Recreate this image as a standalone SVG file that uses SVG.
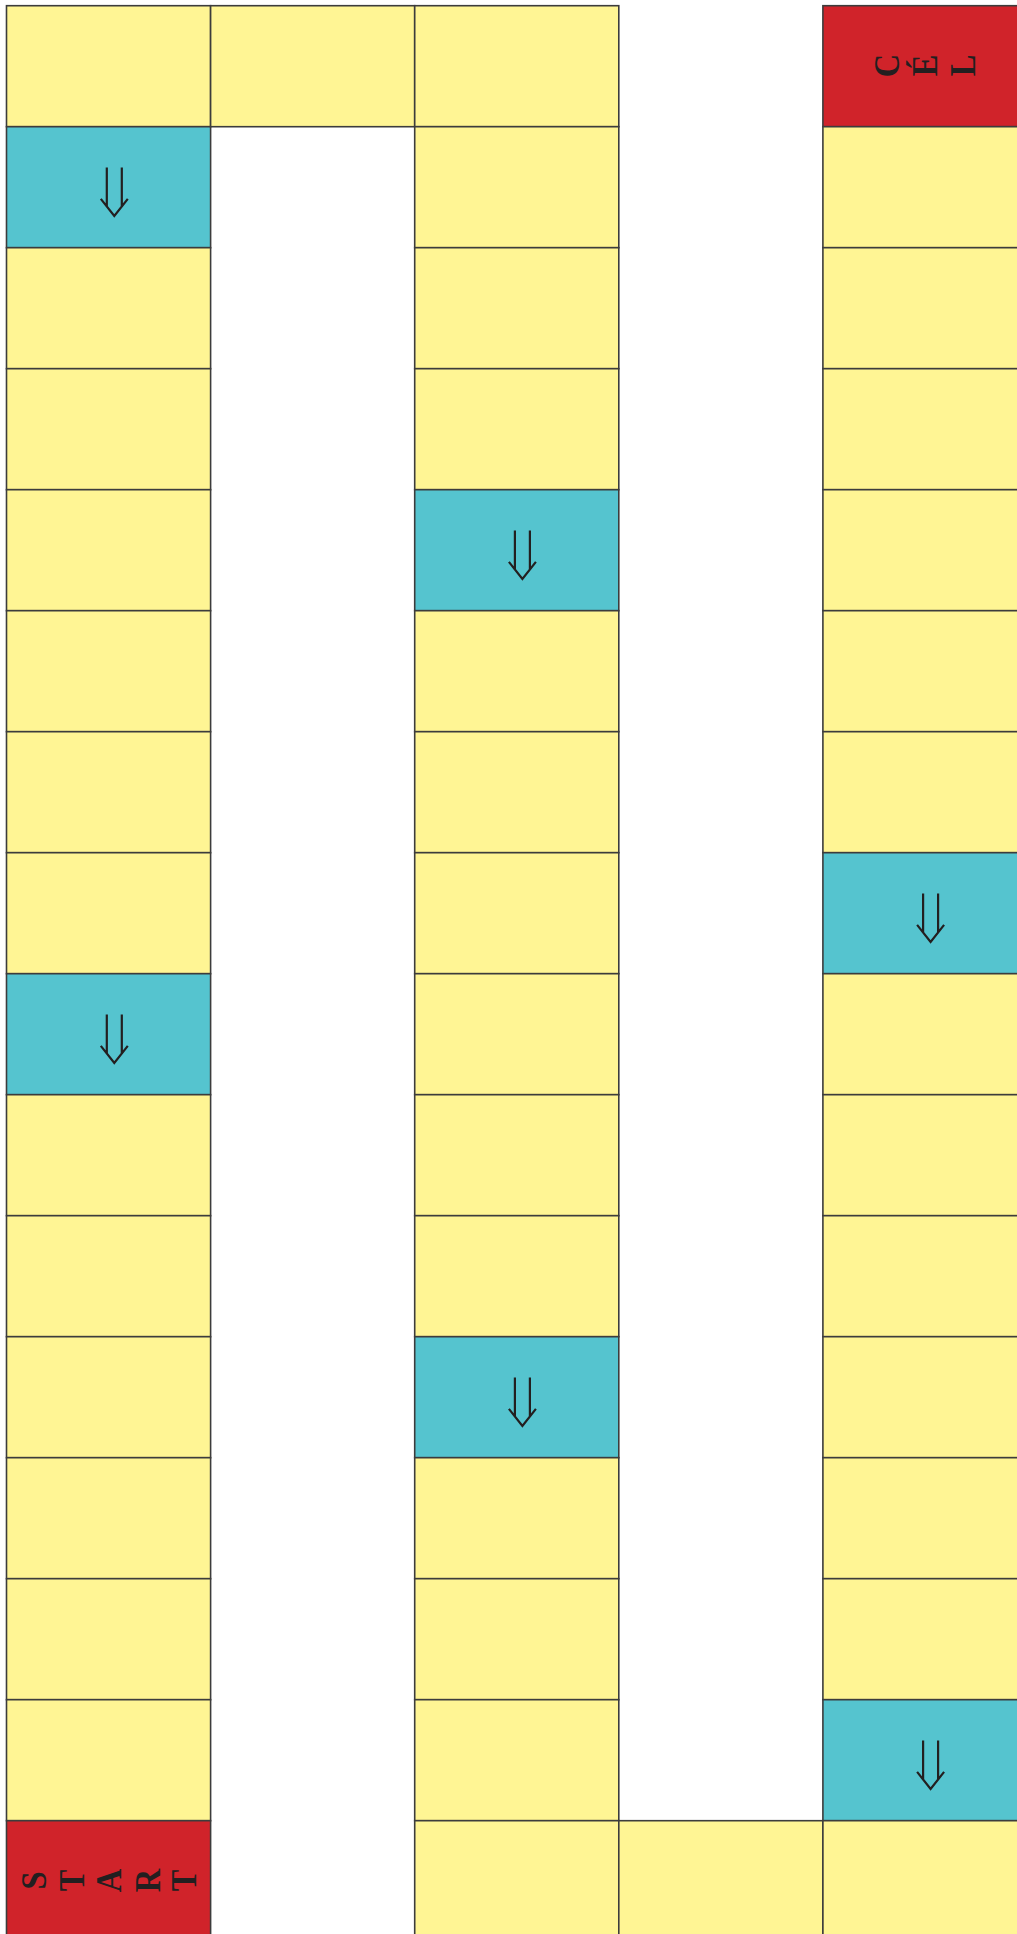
<svg xmlns="http://www.w3.org/2000/svg" xmlns:xlink="http://www.w3.org/1999/xlink" width="1017" height="1934" viewBox="0 0 1017 1934">
<style>
.c{stroke:#3c3c3c;stroke-width:1.6}
.y{fill:#fff594}
.b{fill:#55c4cf}
.r{fill:#d0232a}
.lbl{font-family:"Liberation Serif","Times New Roman",serif;font-weight:bold;font-size:36px;fill:#231f20}
</style>
<defs>
<path id="arr" d="M-7.5,-24V14.8M7.5,-24V14.8M-13.5,7.5L0,24.5L13.5,7.5" fill="none" stroke="#231f20" stroke-width="2.2"/>
</defs>
<rect width="1017" height="1934" fill="#fff"/>
<g id="col0">
<g id="c0r0"><rect class="c y" x="6.5" y="5.7" width="204.1" height="121"/></g>
<g id="c0r1"><rect class="c b" x="6.5" y="126.7" width="204.1" height="121"/><use xlink:href="#arr" x="114.3" y="191.4"/></g>
<g id="c0r2"><rect class="c y" x="6.5" y="247.7" width="204.1" height="121"/></g>
<g id="c0r3"><rect class="c y" x="6.5" y="368.7" width="204.1" height="121"/></g>
<g id="c0r4"><rect class="c y" x="6.5" y="489.7" width="204.1" height="121"/></g>
<g id="c0r5"><rect class="c y" x="6.5" y="610.7" width="204.1" height="121"/></g>
<g id="c0r6"><rect class="c y" x="6.5" y="731.7" width="204.1" height="121"/></g>
<g id="c0r7"><rect class="c y" x="6.5" y="852.7" width="204.1" height="121"/></g>
<g id="c0r8"><rect class="c b" x="6.5" y="973.7" width="204.1" height="121"/><use xlink:href="#arr" x="114.3" y="1038.4"/></g>
<g id="c0r9"><rect class="c y" x="6.5" y="1094.7" width="204.1" height="121"/></g>
<g id="c0r10"><rect class="c y" x="6.5" y="1215.7" width="204.1" height="121"/></g>
<g id="c0r11"><rect class="c y" x="6.5" y="1336.7" width="204.1" height="121"/></g>
<g id="c0r12"><rect class="c y" x="6.5" y="1457.7" width="204.1" height="121"/></g>
<g id="c0r13"><rect class="c y" x="6.5" y="1578.7" width="204.1" height="121"/></g>
<g id="c0r14"><rect class="c y" x="6.5" y="1699.7" width="204.1" height="121"/></g>
<g id="start"><rect class="c r" x="6.5" y="1820.7" width="204.1" height="121"/>
<g transform="translate(0,1880.4) scale(1,0.9) translate(0,-1880.4)"><text class="lbl" x="46.1 84.1 121.1 160.1 195.6" y="1890.5 1892.5 1893.5 1893.5 1892.5" rotate="-90 -90 -90 -90 -90">START</text></g></g>
</g>
<g id="col1">
<g id="c1r0"><rect class="c y" x="210.6" y="5.7" width="204.1" height="121"/></g>
</g>
<g id="col2">
<g id="c2r0"><rect class="c y" x="414.7" y="5.7" width="204.1" height="121"/></g>
<g id="c2r1"><rect class="c y" x="414.7" y="126.7" width="204.1" height="121"/></g>
<g id="c2r2"><rect class="c y" x="414.7" y="247.7" width="204.1" height="121"/></g>
<g id="c2r3"><rect class="c y" x="414.7" y="368.7" width="204.1" height="121"/></g>
<g id="c2r4"><rect class="c b" x="414.7" y="489.7" width="204.1" height="121"/><use xlink:href="#arr" x="522.4" y="554.4"/></g>
<g id="c2r5"><rect class="c y" x="414.7" y="610.7" width="204.1" height="121"/></g>
<g id="c2r6"><rect class="c y" x="414.7" y="731.7" width="204.1" height="121"/></g>
<g id="c2r7"><rect class="c y" x="414.7" y="852.7" width="204.1" height="121"/></g>
<g id="c2r8"><rect class="c y" x="414.7" y="973.7" width="204.1" height="121"/></g>
<g id="c2r9"><rect class="c y" x="414.7" y="1094.7" width="204.1" height="121"/></g>
<g id="c2r10"><rect class="c y" x="414.7" y="1215.7" width="204.1" height="121"/></g>
<g id="c2r11"><rect class="c b" x="414.7" y="1336.7" width="204.1" height="121"/><use xlink:href="#arr" x="522.4" y="1401.4"/></g>
<g id="c2r12"><rect class="c y" x="414.7" y="1457.7" width="204.1" height="121"/></g>
<g id="c2r13"><rect class="c y" x="414.7" y="1578.7" width="204.1" height="121"/></g>
<g id="c2r14"><rect class="c y" x="414.7" y="1699.7" width="204.1" height="121"/></g>
<g id="c2r15"><rect class="c y" x="414.7" y="1820.7" width="204.1" height="121"/></g>
</g>
<g id="col3">
<g id="c3r15"><rect class="c y" x="618.8" y="1820.7" width="204.1" height="121"/></g>
</g>
<g id="col4">
<g id="cel"><rect class="c r" x="822.9" y="5.7" width="204.1" height="121"/>
<g transform="translate(0,65.7) scale(1,0.9) translate(0,-65.3)"><text class="lbl" x="899.4 937.2 975.2" y="78 77 77" rotate="-90 -90 -90">CÉL</text></g></g>
<g id="c4r1"><rect class="c y" x="822.9" y="126.7" width="204.1" height="121"/></g>
<g id="c4r2"><rect class="c y" x="822.9" y="247.7" width="204.1" height="121"/></g>
<g id="c4r3"><rect class="c y" x="822.9" y="368.7" width="204.1" height="121"/></g>
<g id="c4r4"><rect class="c y" x="822.9" y="489.7" width="204.1" height="121"/></g>
<g id="c4r5"><rect class="c y" x="822.9" y="610.7" width="204.1" height="121"/></g>
<g id="c4r6"><rect class="c y" x="822.9" y="731.7" width="204.1" height="121"/></g>
<g id="c4r7"><rect class="c b" x="822.9" y="852.7" width="204.1" height="121"/><use xlink:href="#arr" x="930.6" y="917.4"/></g>
<g id="c4r8"><rect class="c y" x="822.9" y="973.7" width="204.1" height="121"/></g>
<g id="c4r9"><rect class="c y" x="822.9" y="1094.7" width="204.1" height="121"/></g>
<g id="c4r10"><rect class="c y" x="822.9" y="1215.7" width="204.1" height="121"/></g>
<g id="c4r11"><rect class="c y" x="822.9" y="1336.7" width="204.1" height="121"/></g>
<g id="c4r12"><rect class="c y" x="822.9" y="1457.7" width="204.1" height="121"/></g>
<g id="c4r13"><rect class="c y" x="822.9" y="1578.7" width="204.1" height="121"/></g>
<g id="c4r14"><rect class="c b" x="822.9" y="1699.7" width="204.1" height="121"/><use xlink:href="#arr" x="930.6" y="1764.4"/></g>
<g id="c4r15"><rect class="c y" x="822.9" y="1820.7" width="204.1" height="121"/></g>
</g>
<g id="connectors"/>
</svg>
